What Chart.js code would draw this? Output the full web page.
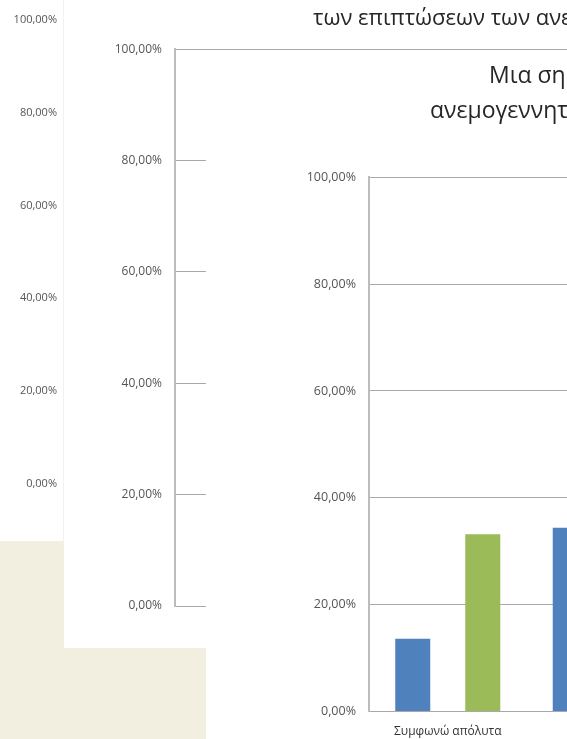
<!DOCTYPE html>
<html><head><meta charset="utf-8">
<script src="https://cdn.jsdelivr.net/npm/chart.js@4.4.0/dist/chart.umd.min.js"></script>
<style>
html,body{margin:0;padding:0;width:567px;height:739px;overflow:hidden;background:#F2EEE0;font-family:'Open Sans',sans-serif;}
.panel{position:absolute;background:#fff;overflow:hidden;}
#p1{left:0;top:0;width:63px;height:541px;border-right:1px solid #f1f1f1;z-index:1}
#p2{left:64px;top:0;width:503px;height:648px;z-index:2}
#p3{left:206px;top:56px;width:361px;height:683px;z-index:3}
.box{position:absolute;left:0;top:0}
.t{position:absolute;white-space:nowrap;color:#262626;line-height:1;font-family:'Open Sans',sans-serif}
</style></head>
<body>
<div class="panel" id="p1"><div class="box" style="width:200px;height:541px"><canvas id="c1"></canvas></div></div>
<div class="panel" id="p2"><div class="box" style="width:503px;height:648px"><canvas id="c2"></canvas></div>
  <div class="t" style="left:249px;top:5px;font-size:22px">των επιπτώσεων των ανεμογεννητριών</div>
</div>
<div class="panel" id="p3"><div class="box" style="width:478px;height:720px"><canvas id="c3"></canvas></div>
  <div class="t" style="left:283px;top:7px;font-size:23px">Μια σημαντική</div>
  <div class="t" style="left:224px;top:42px;font-size:23px">ανεμογεννητριών</div>
</div>
<script>
// ---- data ----
const categories = ['Συμφωνώ απόλυτα', 'Συμφωνώ'];
const seriesBlue = [13.6, 34.4];
const seriesGreen = [33.2, null];
const yMin = 0, yMax = 100, yStep = 20;

Chart.defaults.font.family = "'Open Sans', sans-serif";
Chart.defaults.color = '#555555';
const fmt = v => Number(v).toFixed(2).replace('.', ',') + '%';
const common = {
  responsive: true, maintainAspectRatio: false, animation: false, devicePixelRatio: 1,
  plugins: { legend: { display: false }, tooltip: { enabled: false }, title: { display: false } }
};

// Panel 1 (back, only axis labels visible)
new Chart(document.getElementById('c1'), {
  type: 'bar',
  data: { labels: [], datasets: [] },
  options: Object.assign({}, common, {
    layout: { padding: { left: 0, top: 14, right: 0, bottom: 57 } },
    scales: {
      x: { display: false },
      y: { min: yMin, max: yMax,
        ticks: { stepSize: yStep, callback: fmt, font: { size: 11 }, padding: 13 },
        grid: { display: false, drawTicks: false }, border: { display: false },
        afterFit: s => { s.width = 70; } }
    }
  })
});

// Panel 2 (middle)
new Chart(document.getElementById('c2'), {
  type: 'bar',
  data: { labels: [], datasets: [] },
  options: Object.assign({}, common, {
    layout: { padding: { left: 0, top: 49.3, right: 0, bottom: 42 } },
    scales: {
      x: { display: false },
      y: { min: yMin, max: yMax,
        ticks: { stepSize: yStep, callback: fmt, font: { size: 12 }, padding: 13 },
        grid: { color: '#a9a9a9', lineWidth: 1, drawTicks: false },
        border: { display: true, color: '#bcbcbc', width: 2 },
        afterFit: s => { s.width = 111; } }
    }
  })
});

// Panel 3 (front, bars)
new Chart(document.getElementById('c3'), {
  type: 'bar',
  data: { labels: categories, datasets: [
    { label: 'Σειρά 1', data: seriesBlue, backgroundColor: '#4F81BD' },
    { label: 'Σειρά 2', data: seriesGreen, backgroundColor: '#9BBB59' }
  ]},
  options: Object.assign({}, common, {
    layout: { padding: { left: 0, top: 121.3, right: 0, bottom: 24.5 } },
    datasets: { bar: { categoryPercentage: 0.889, barPercentage: 0.5 } },
    scales: {
      x: { ticks: { font: { size: 12 }, padding: 13, color: '#333' },
        grid: { display: false, drawTicks: false },
        border: { display: true, color: '#a9a9a9', width: 1 },
        afterFit: s => { s.height = 40; } },
      y: { min: yMin, max: yMax,
        ticks: { stepSize: yStep, callback: fmt, font: { size: 12.5 }, padding: 13 },
        grid: { color: '#a9a9a9', lineWidth: 1, drawTicks: false },
        border: { display: true, color: '#bcbcbc', width: 2 },
        afterFit: s => { s.width = 163; } }
    }
  })
});
</script>
</body></html>
